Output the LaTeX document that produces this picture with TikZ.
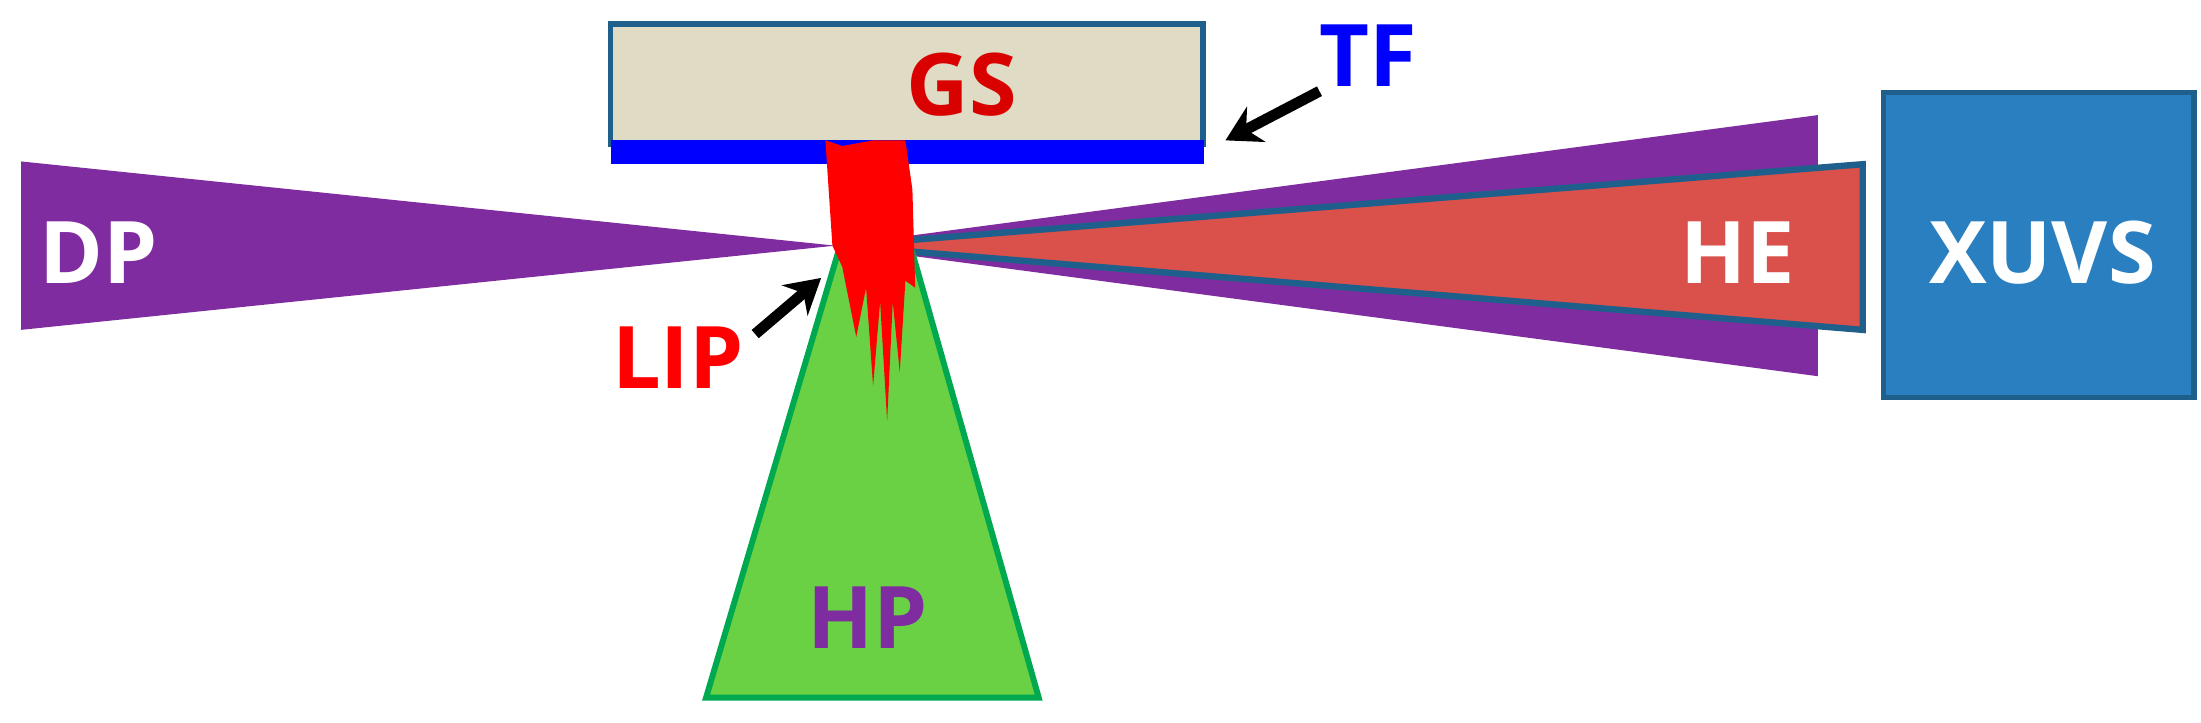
\documentclass[tikz,border=0pt]{standalone}
\usepackage{fontspec}
\setmainfont{Open Sans}
\usetikzlibrary{arrows.meta}
\definecolor{purp}{HTML}{7F2CA0}
\definecolor{herd}{HTML}{DA504B}
\definecolor{edge}{HTML}{1F5F8B}
\definecolor{xuv}{HTML}{2A7FC0}
\definecolor{beige}{HTML}{E0DBC5}
\definecolor{grn}{HTML}{6AD144}
\definecolor{grnd}{HTML}{00A850}
\tikzset{lbl/.style={font=\bfseries\fontsize{17.5}{20}\selectfont, inner sep=0pt},
  arr/.style={-{Stealth[length=7pt,width=8pt]}, line width=2.2pt, black}}
\begin{document}
\begin{tikzpicture}[x=0.01cm,y=-0.01cm]
\useasboundingbox (0,0) rectangle (1568,515);
% DP and right purple beams
\fill[purp] (15,115) -- (595,175) -- (15,235) -- cycle;
\fill[purp] (595,175) -- (1295,82) -- (1295,268) -- cycle;
% HE
\filldraw[fill=herd, draw=edge, line width=1.3pt, line join=miter] (598,175) -- (1327,117) -- (1327,235) -- cycle;
% XUVS box
\filldraw[fill=xuv, draw=edge, line width=1.1pt] (1342,66) rectangle (1563,283);
\node[lbl, text=white] (xuvstext) at (1455,180) {XUVS};
\node[lbl, text=white] (he) at (1238,180) {HE};
\node[lbl, text=white] (dp) at (70,180) {DP};
% HP cone
\filldraw[fill=grn, draw=grnd, line width=1.2pt] (597,180) -- (650,180) -- (740,497) -- (503,497) -- cycle;
\node[lbl, text=purp] (hp) at (618,440) {HP};
% GS box
\filldraw[fill=beige, draw=edge, line width=1.1pt] (435,17) rectangle (857,103);
\fill[blue] (435,100) rectangle (858,117);
\node[lbl, text=red!85!black] (gs) at (685,60) {GS};
% plume
\fill[red] (588,100) -- (600,104) -- (622,100) -- (645,100) -- (650,135) -- (652,205)
  -- (645,200) -- (641,265) -- (636,215) -- (632,300) -- (627,215) -- (622,275)
  -- (617,205) -- (610,240) -- (600,190) -- (593,175) -- (590,130) -- cycle;
% TF
\node[lbl, text=blue] (tf) at (975,40) {TF};
\coordinate (tfs) at (940,65);
\coordinate (tfe) at (873,100);
\draw[arr] (tfs) -- (tfe);
% LIP
\node[lbl, text=red] (lip) at (483,255) {LIP};
\coordinate (lips) at (538,238);
\coordinate (lipe) at (585,198);
\draw[arr] (lips) -- (lipe);
\end{tikzpicture}
\end{document}
